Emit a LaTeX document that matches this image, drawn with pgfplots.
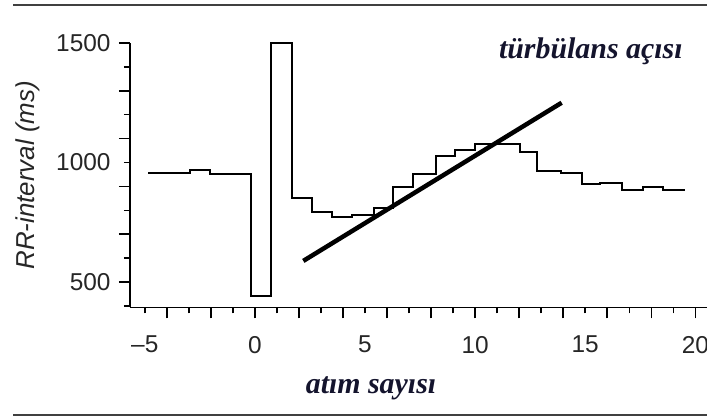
\documentclass[border=0pt]{standalone}
\usepackage{pgfplots}
\pgfplotsset{compat=1.18}
\usepackage{fontspec}
\setmainfont{Liberation Sans}
\newfontfamily\trserif{Liberation Serif}
\definecolor{ink}{RGB}{20,20,45}

\begin{document}
\begin{tikzpicture}
\path[use as bounding box] (0,0) rectangle (707bp,416bp);
% frame lines above and below
\draw[black!75, line width=1.6bp] (13bp,411bp) -- (707bp,411bp);
\draw[black!75, line width=1.6bp] (13bp,1bp) -- (707bp,1bp);
\begin{axis}[
    at={(130bp,108.5bp)}, anchor=south west,
    scale only axis, width=577bp, height=264.5bp,
    xmin=-5.67, xmax=20.53, ymin=393, ymax=1500,
    axis lines*=left,
    axis line style={line width=1.5bp, -},
    tick align=outside,
    xtick={-4,-2,...,20}, xticklabels={},
    minor xtick={-5,-3,...,19},
    ytick={500,700,...,1500}, yticklabels={},
    minor ytick={400,600,...,1400},
    major tick length=11bp, minor tick length=6bp,
    every tick/.style={black, line width=1.5bp},
    extra x ticks={-5,0,5,10,15,20},
    extra x tick labels={--5,0,5,10,15,20},
    extra y ticks={500,1000,1500},
    extra y tick labels={500,1000,1500},
    extra tick style={tick style={draw=none}},
    tick label style={font=\fontsize{24.5}{28}\selectfont, text=black!85},
    xticklabel style={yshift=-14bp},
    yticklabel style={xshift=-5bp},
    ylabel={RR-interval (ms)},
    ylabel style={at={(axis description cs:-0.177,0.5)}, anchor=center,
        font=\fontsize{26}{30}\selectfont\itshape, text=black!85},
    xlabel={atım sayısı},
    xlabel style={at={(axis description cs:0.4177,-0.3233)}, anchor=base,
        font=\trserif\bfseries\itshape\fontsize{30}{34}\selectfont, text=ink},
    clip=false,
]
% RR intervals, one step per beat
\addplot[const plot, black, line width=2bp] coordinates {
    (-4.85,957) (-3.89,957) (-2.94,969) (-2.03,952) (-1.13,952)
    (-0.17,443) (0.74,1500) (1.69,851) (2.60,794) (3.50,771)
    (4.41,780) (5.41,808) (6.27,899) (7.18,951) (8.22,1027)
    (9.09,1052) (9.99,1077) (10.99,1077) (12.04,1045) (12.81,966)
    (13.90,957) (14.85,910) (15.67,915) (16.67,885) (17.62,896)
    (18.53,885) (19.53,885)
};
% turbulence slope
\addplot[black, line width=4.5bp] coordinates {(2.2,588) (13.93,1250)};
\node[anchor=base east, inner sep=0pt, text=ink,
      font=\trserif\bfseries\itshape\fontsize{30}{34}\selectfont]
    at (axis description cs:0.958,0.943) {türbülans açısı};
\end{axis}
\end{tikzpicture}
\end{document}
